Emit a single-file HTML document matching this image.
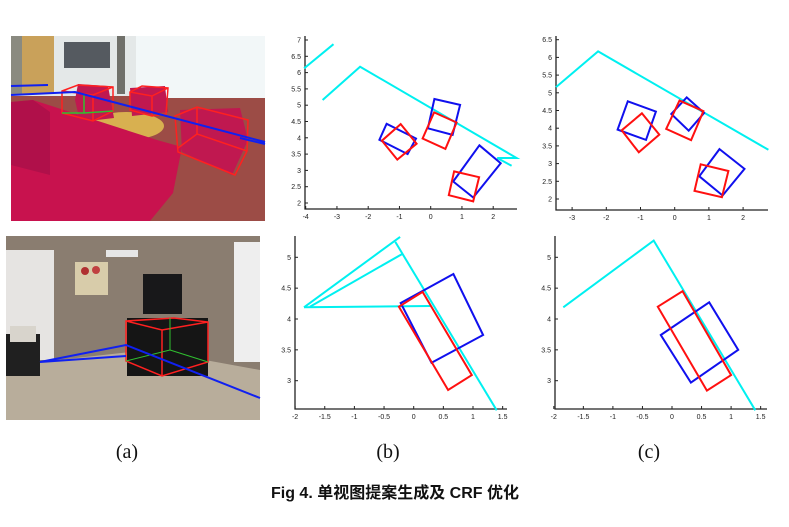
<!DOCTYPE html>
<html><head><meta charset="utf-8"><style>
body{margin:0;background:#fff;}
svg{display:block;font-family:"Liberation Sans","Noto Sans CJK SC",sans-serif;}
</style></head><body>
<svg id="fig" width="789" height="527" viewBox="0 0 789 527">
<rect width="789" height="527" fill="#fff"/>
<!-- top photo -->
<g>
<rect x="11" y="36" width="254" height="185" fill="#9c4c46"/>
<rect x="11" y="36" width="254" height="60" fill="#e4e8e8"/>
<rect x="11" y="36" width="43" height="58" fill="#8a8a80"/>
<rect x="22" y="36" width="32" height="58" fill="#c9a15a"/>
<rect x="64" y="42" width="46" height="26" fill="#555a60"/>
<rect x="117" y="36" width="8" height="58" fill="#70706a"/>
<rect x="136" y="36" width="129" height="62" fill="#f2f7f8"/>
<ellipse cx="126" cy="126" rx="38" ry="14" fill="#d8b050"/>
<polygon points="78,84 108,86 114,118 80,122 75,100" fill="#c01850"/>
<polygon points="130,88 165,86 168,112 132,116" fill="#c01850"/>
<polygon points="180,110 240,108 248,140 232,175 182,152" fill="#c01850"/>
<polygon points="11,102 33,100 157,140 182,147 173,193 150,221 11,221" fill="#c8124e"/>
<polygon points="33,100 50,112 50,175 11,165 11,102" fill="#b0104a"/>
<g fill="none" stroke-width="1.5">
<path d="M62,91 L78,85 L113,87 L113,111 L93,121 L62,113 Z M62,91 L93,95 L113,87 M93,95 L93,121" stroke="#ff2020"/>
<path d="M130,92 L142,86 L168,88 L166,114 L152,116 L130,110 Z M130,92 L152,96 L168,88 M152,96 L152,116" stroke="#ff2020"/>
<path d="M175,116 L197,107 L248,120 L247,151 L235,175 L178,152 Z M175,116 L178,152 M197,107 L197,134 L247,151 M197,134 L178,148" stroke="#ff2020"/>
<path d="M84,95 L84,113 L62,113 M84,113 L113,111" stroke="#30c030"/>
</g>
<path d="M11,95 L75,92 L265,142 M11,86 L48,85 M240,138 L265,144" stroke="#1020f0" stroke-width="2" fill="none"/>
</g>
<!-- bottom photo -->
<g>
<rect x="6" y="236" width="254" height="184" fill="#b8ad9b"/>
<polygon points="6,236 260,236 260,370 205,360 130,352 40,362 6,366" fill="#8a7d70"/>
<rect x="6" y="250" width="48" height="110" fill="#e6e4e2"/>
<rect x="234" y="242" width="26" height="120" fill="#eeeeee"/>
<rect x="106" y="250" width="32" height="7" fill="#e6e6e6"/>
<rect x="75" y="262" width="33" height="33" fill="#d8ccaa"/>
<circle cx="85" cy="271" r="4" fill="#b03030"/><circle cx="96" cy="270" r="4" fill="#c04040"/>
<rect x="143" y="274" width="39" height="40" fill="#18181a"/>
<rect x="127" y="318" width="81" height="58" fill="#151515"/>
<rect x="6" y="334" width="34" height="42" fill="#202020"/>
<rect x="10" y="326" width="26" height="16" fill="#d8d4cc"/>
<path d="M126,321 L174,318 L208,322 L208,362 L162,376 L126,361 Z M126,321 L162,330 L208,322 M162,330 L162,376" stroke="#ff2020" stroke-width="1.5" fill="none"/>
<path d="M170,318 L170,350 L126,361 M170,350 L208,362" stroke="#30c030" stroke-width="1" fill="none"/>
<path d="M40,362 L126,345 L260,398 M40,362 L126,356" stroke="#1020f0" stroke-width="2" fill="none"/>
</g>
<g id="plots"></g>
<g font-family="Liberation Serif, serif" font-size="20" fill="#111">
<text x="127" y="458" text-anchor="middle">(a)</text>
<text x="388" y="458" text-anchor="middle">(b)</text>
<text x="649" y="458" text-anchor="middle">(c)</text>
</g>
<text x="395" y="498" text-anchor="middle" font-size="16" font-weight="bold" fill="#111">Fig 4. 单视图提案生成及 CRF 优化</text>
</svg>
<script>
// data (in metres)
const tbXTicks=[-4,-3,-2,-1,0,1,2];
const tbYTicks=[2,2.5,3,3.5,4,4.5,5,5.5,6,6.5,7];
const tcXTicks=[-3,-2,-1,0,1,2];
const tcYTicks=[2,2.5,3,3.5,4,4.5,5,5.5,6,6.5];
const bXTicks=[-2,-1.5,-1,-0.5,0,0.5,1,1.5];
const bYTicks=[3,3.5,4,4.5,5];

const tbCyan=[[[-4.05,6.13],[-3.11,6.87]],[[-3.46,5.16],[-2.26,6.18],[2.75,3.38],[2.13,3.38],[2.59,3.14]]];
const tbBlue=[[[-1.41,4.43],[-0.47,3.98],[-0.74,3.5],[-1.64,3.94]],[[0.12,5.19],[0.94,5.01],[0.70,4.09],[-0.09,4.29]],[[1.56,3.77],[2.24,3.22],[1.36,2.17],[0.72,2.66]]];
const tbRed=[[[-0.96,4.42],[-0.45,3.82],[-1.07,3.33],[-1.56,3.91]],[[0.11,4.78],[0.83,4.47],[0.47,3.66],[-0.26,3.98]],[[0.75,2.97],[1.55,2.79],[1.36,2.05],[0.58,2.24]]];

const tcCyan=[[[-3.47,5.16],[-2.24,6.17],[2.74,3.39]]];
const tcBlue=[[[-1.37,4.76],[-0.55,4.47],[-0.84,3.67],[-1.67,3.96]],[[0.35,4.87],[0.86,4.43],[0.41,3.93],[-0.10,4.40]],[[1.31,3.41],[2.04,2.85],[1.40,2.10],[0.72,2.64]]];
const tcRed=[[[-0.96,4.42],[-0.45,3.82],[-1.05,3.32],[-1.55,3.94]],[[0.14,4.78],[0.84,4.48],[0.48,3.66],[-0.25,3.98]],[[0.76,2.98],[1.57,2.79],[1.38,2.05],[0.58,2.23]]];

const bbCyan=[[[-1.85,4.19],[-0.23,5.33]],[[-0.31,5.25],[1.40,2.52]],[[-1.75,4.20],[-0.20,5.05]],[[-1.85,4.19],[0.28,4.21]]];
const bbBlue=[[[-0.22,4.26],[0.67,4.73],[1.17,3.74],[0.30,3.29]]];
const bbRed=[[[-0.25,4.2],[0.15,4.44],[0.98,3.09],[0.58,2.85]]];

const bcCyan=[[[-1.84,4.19],[-0.31,5.27],[1.41,2.52]]];
const bcBlue=[[[-0.19,3.74],[0.63,4.27],[1.12,3.50],[0.32,2.97]]];
const bcRed=[[[-0.24,4.2],[0.18,4.45],[1.00,3.09],[0.59,2.84]]];

const NS='http://www.w3.org/2000/svg';
const root=document.getElementById('plots');
function mk(tag,attrs,parent){const e=document.createElementNS(NS,tag);for(const k in attrs)e.setAttribute(k,attrs[k]);parent.appendChild(e);return e;}
function plot(name,ax,xt,yt,cyan,blue,red){
  const g=mk('g',{},root);
  
  
  const sx=v=>ax.x0px+(v-ax.x0)*ax.kx, sy=v=>ax.y0px-(v-ax.y0)*ax.ky;
  const axis=mk('path',{d:`M${ax.l},${ax.t} L${ax.l},${ax.b} L${ax.r},${ax.b}`,stroke:'#222','stroke-width':1.3,fill:'none'},g);
  
  
  xt.forEach(v=>{const x=sx(v);mk('line',{x1:x,y1:ax.b,x2:x,y2:ax.b-3,stroke:'#222'},g);
    const t=mk('text',{x:x,y:ax.b+10,'font-size':7,'text-anchor':'middle',fill:'#222'},g);t.textContent=v;
    
    });
  yt.forEach(v=>{const y=sy(v);mk('line',{x1:ax.l,y1:y,x2:ax.l+3,y2:y,stroke:'#222'},g);
    const t=mk('text',{x:ax.l-4,y:y+2.5,'font-size':7,'text-anchor':'end',fill:'#222'},g);t.textContent=v;
    
    });
  const draw=(arr,col,closed,nm)=>arr.forEach(p=>{
    const pts=p.map(q=>sx(q[0]).toFixed(1)+','+sy(q[1]).toFixed(1)).join(' ');
    const e=mk(closed?'polygon':'polyline',{points:pts,stroke:col,'stroke-width':2,fill:'none','stroke-linejoin':'miter'},g);
    
    });
  draw(cyan,'#00f0f0',false,'wall-line');
  draw(blue,'#1010ee',true,'blue-proposal');
  draw(red,'#ff1010',true,'red-ground-truth');
}
plot('plot-b-top',{l:305,r:517,t:36,b:209,x0:0,x0px:430.7,kx:31.25,y0:2,y0px:203,ky:32.6},tbXTicks,tbYTicks,tbCyan,tbBlue,tbRed);
plot('plot-c-top',{l:556,r:768,t:36,b:210,x0:0,x0px:674.7,kx:34.2,y0:2,y0px:199,ky:35.4},tcXTicks,tcYTicks,tcCyan,tcBlue,tcRed);
plot('plot-b-bottom',{l:295,r:507,t:236,b:409,x0:0,x0px:413.7,kx:59.3,y0:3,y0px:380.7,ky:61.7},bXTicks,bYTicks,bbCyan,bbBlue,bbRed);
plot('plot-c-bottom',{l:555,r:767,t:236,b:409,x0:0,x0px:672,kx:59.1,y0:3,y0px:380.7,ky:61.7},bXTicks,bYTicks,bcCyan,bcBlue,bcRed);
</script>
</body></html>
